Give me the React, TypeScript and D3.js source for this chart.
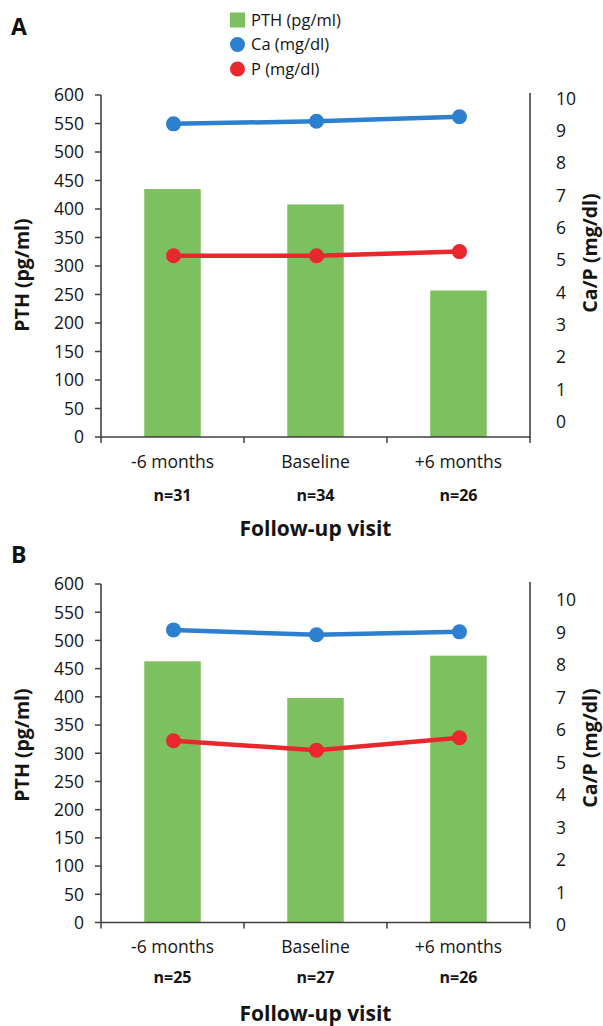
import React from "react";
import * as d3 from "d3";

const categories = ["-6 months", "Baseline", "+6 months"];
const nLabelsA = ["n=31", "n=34", "n=26"];
const nLabelsB = ["n=25", "n=27", "n=26"];
const pthA = [435, 408, 257];
const caA = [9.21, 9.29, 9.43];
const pA = [5.13, 5.13, 5.26];
const pthB = [463, 398, 473];
const caB = [9.08, 8.93, 9.02];
const pB = [5.67, 5.38, 5.76];
const pthTicks = d3.range(0, 601, 50);
const rightTicks = d3.range(0, 11, 1);
const legendItems = ["PTH (pg/ml)", "Ca (mg/dl)", "P (mg/dl)"];

const GREEN = "#7dc05f";
const BLUE = "#2d7fcf";
const RED = "#e8282c";
const AXIS = "#404040";
const TEXT = "#141414";
const FONT = "'Open Sans', sans-serif";

const X0 = 101;
const X1 = 530;

type PanelProps = {
  letter: string;
  nLabels: string[];
  pth: number[];
  ca: number[];
  p: number[];
  top: number;
  bottom: number;
  rTop: number;
  rBottom: number;
  letterY: number;
  xLabelY: number;
  nY: number;
  titleY: number;
  leftTitleY: number;
  rightTitleY: number;
};

function Panel(props: PanelProps) {
  const { letter, nLabels, pth, ca, p, top, bottom, rTop, rBottom } = props;
  const x = d3.scaleBand<string>().domain(categories).range([X0, X1]);
  const y = d3.scaleLinear().domain([0, 600]).range([bottom, top]);
  const y2 = d3.scaleLinear().domain([0, 10]).range([rBottom, rTop]);
  const bw = x.bandwidth();
  const barW = 56.5;
  const cx = (c: string) => (x(c) as number) + bw / 2;
  const line = d3
    .line<number>()
    .x((_, i) => cx(categories[i]) + 1)
    .y((d) => y2(d));
  const boundaries = [...categories.map((c) => x(c) as number), X1];

  return (
    <g>
      <text x={11} y={props.letterY} fontFamily={FONT} fontWeight={700} fontSize={23} fill="#111">
        {letter}
      </text>
      {categories.map((c, i) => (
        <rect
          key={c}
          x={cx(c) - barW / 2}
          y={y(pth[i])}
          width={barW}
          height={y(0) - y(pth[i])}
          fill={GREEN}
        />
      ))}
      <line x1={X0} x2={X0} y1={top} y2={bottom} stroke={AXIS} strokeWidth={1.6} />
      {pthTicks.map((t) => (
        <g key={t}>
          <line x1={X0 - 6} x2={X0} y1={y(t)} y2={y(t)} stroke={AXIS} strokeWidth={1.5} />
          <text
            x={84}
            y={y(t)}
            dy="0.36em"
            textAnchor="end"
            fontFamily={FONT}
            fontSize={17.5}
            fill={TEXT}
          >
            {t}
          </text>
        </g>
      ))}
      <line x1={X1} x2={X1} y1={top - 2} y2={bottom + 1} stroke={AXIS} strokeWidth={1.6} />
      {rightTicks.map((t) => (
        <text
          key={t}
          x={556}
          y={y2(t)}
          dy="0.36em"
          textAnchor="start"
          fontFamily={FONT}
          fontSize={17.5}
          fill={TEXT}
        >
          {t}
        </text>
      ))}
      <line x1={X0} x2={X1} y1={bottom} y2={bottom} stroke={AXIS} strokeWidth={1.6} />
      {boundaries.map((b, i) => (
        <line key={i} x1={b} x2={b} y1={bottom} y2={bottom + 6} stroke={AXIS} strokeWidth={1.5} />
      ))}
      {categories.map((c, i) => (
        <g key={c}>
          <text
            x={cx(c)}
            y={props.xLabelY}
            textAnchor="middle"
            fontFamily={FONT}
            fontSize={17.5}
            fill={TEXT}
          >
            {c}
          </text>
          <text
            x={cx(c)}
            y={props.nY}
            textAnchor="middle"
            fontFamily={FONT}
            fontWeight={700}
            fontSize={16}
            fill={TEXT}
          >
            {nLabels[i]}
          </text>
        </g>
      ))}
      <text
        x={(X0 + X1) / 2}
        y={props.titleY}
        textAnchor="middle"
        fontFamily={FONT}
        fontWeight={700}
        fontSize={21}
        fill={TEXT}
      >
        Follow-up visit
      </text>
      <text
        transform={`translate(22.5,${props.leftTitleY}) rotate(-90)`}
        textAnchor="middle"
        dy="0.35em"
        fontFamily={FONT}
        fontWeight={700}
        fontSize={19.5}
        fill={TEXT}
      >
        PTH (pg/ml)
      </text>
      <text
        transform={`translate(590,${props.rightTitleY}) rotate(-90)`}
        textAnchor="middle"
        dy="0.35em"
        fontFamily={FONT}
        fontWeight={700}
        fontSize={19.5}
        fill={TEXT}
      >
        Ca/P (mg/dl)
      </text>
      <path d={line(ca) || ""} fill="none" stroke={BLUE} strokeWidth={4.5} />
      <path d={line(p) || ""} fill="none" stroke={RED} strokeWidth={4.5} />
      {ca.map((v, i) => (
        <circle key={"c" + i} cx={cx(categories[i]) + 1} cy={y2(v)} r={7.5} fill={BLUE} />
      ))}
      {p.map((v, i) => (
        <circle key={"p" + i} cx={cx(categories[i]) + 1} cy={y2(v)} r={7.5} fill={RED} />
      ))}
    </g>
  );
}

function Legend() {
  const colors = [GREEN, BLUE, RED];
  return (
    <g>
      {legendItems.map((label, i) => {
        const cy = 20 + i * 24.5;
        return (
          <g key={label}>
            {i === 0 ? (
              <rect x={230} y={cy - 7.5} width={15} height={15} fill={colors[i]} />
            ) : (
              <circle cx={237.5} cy={cy} r={7.5} fill={colors[i]} />
            )}
            <text x={251} y={cy} dy="0.36em" fontFamily={FONT} fontSize={16.5} fill={TEXT}>
              {label}
            </text>
          </g>
        );
      })}
    </g>
  );
}

export default function App() {
  return (
    <svg
      width={603}
      height={1026}
      viewBox="0 0 603 1026"
      style={{ position: "absolute", left: 0, top: 0, background: "#fff" }}
    >
      <rect width={603} height={1026} fill="#fff" />
      <Legend />
      <Panel
        letter="A"
        nLabels={nLabelsA}
        pth={pthA}
        ca={caA}
        p={pA}
        top={95}
        bottom={437}
        rTop={98.3}
        rBottom={421.7}
        letterY={35}
        xLabelY={468}
        nY={501}
        titleY={536}
        leftTitleY={275}
        rightTitleY={253}
      />
      <Panel
        letter="B"
        nLabels={nLabelsB}
        pth={pthB}
        ca={caB}
        p={pB}
        top={584}
        bottom={922.5}
        rTop={600}
        rBottom={925}
        letterY={563}
        xLabelY={953}
        nY={983}
        titleY={1021}
        leftTitleY={745}
        rightTitleY={748}
      />
    </svg>
  );
}
